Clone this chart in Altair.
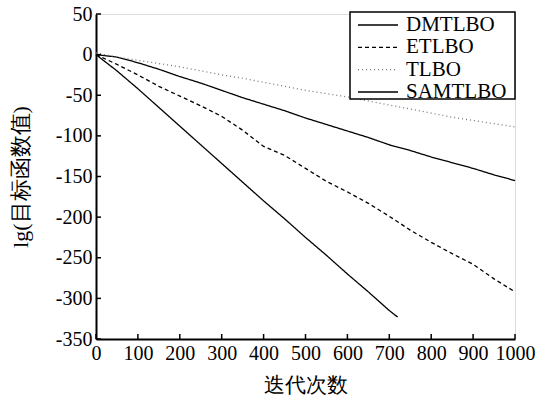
import altair as alt
import pandas as pd

iters = [0, 50, 100, 150, 200, 250, 300, 350, 400, 450, 500,
         550, 600, 650, 700, 750, 800, 850, 900, 950, 1000]
dmtlbo = [0, -3, -10, -18, -27, -35, -44, -53, -61, -69, -78,
          -86, -94, -102, -111, -118, -126, -133, -140, -148, -155]
etlbo = [0, -12, -25, -39, -51, -63, -76, -93, -113, -124, -140,
         -156, -169, -183, -199, -216, -231, -245, -258, -276, -292]
tlbo = [2, -3, -7, -11, -15, -20, -25, -29, -34, -39, -44,
        -48, -52, -57, -62, -67, -72, -77, -81, -85, -89]
sam_iters = [0, 50, 100, 150, 200, 250, 300, 350, 400, 450, 500,
             550, 600, 650, 700, 720]
samtlbo = [0, -20, -42, -65, -88, -111, -134, -157, -180, -202, -225,
           -247, -270, -292, -315, -323]

series_names = ["DMTLBO", "ETLBO", "TLBO", "SAMTLBO"]
x_ticks = [0, 100, 200, 300, 400, 500, 600, 700, 800, 900, 1000]
y_ticks = [50, 0, -50, -100, -150, -200, -250, -300, -350]

rows = []
for name, xs, ys in [("DMTLBO", iters, dmtlbo), ("ETLBO", iters, etlbo),
                     ("TLBO", iters, tlbo), ("SAMTLBO", sam_iters, samtlbo)]:
    for i, (a, b) in enumerate(zip(xs, ys)):
        rows.append({"iter": a, "val": b, "alg": name, "order": i})
df = pd.DataFrame(rows)

FONT = "Liberation Serif"
W, H = 419, 325

xscale = alt.Scale(domain=[0, 1000], nice=False, zero=False)
yscale = alt.Scale(domain=[-350, 50], nice=False, zero=False)
color_scale = alt.Scale(domain=series_names,
                        range=["black", "black", "#777777", "black"])
dash_scale = alt.Scale(domain=series_names,
                       range=[[1, 0], [4, 3], [1, 3], [1, 0]])

axis_common = dict(grid=False, tickSize=0, labelPadding=4,
                   labelFontSize=20,
                   labelFont=FONT, titleFont=FONT,
                   labelColor="black", titleColor="black",
                   domainColor="black", domainWidth=2,
                   labelExpr="datum.value + ''",
                   labelFlush=False, titleFontWeight="normal")

x_axis = alt.Axis(values=x_ticks, title="迭代次数", titlePadding=11,
                  titleFontSize=21, **axis_common)
y_axis = alt.Axis(values=y_ticks, title="lg(目标函数值)", titlePadding=23,
                  titleFontSize=22, **axis_common)

lines = alt.Chart(df).mark_line(strokeWidth=1.3).encode(
    x=alt.X("iter:Q", scale=xscale, axis=x_axis),
    y=alt.Y("val:Q", scale=yscale, axis=y_axis),
    color=alt.Color("alg:N", scale=color_scale, legend=None),
    strokeDash=alt.StrokeDash("alg:N", scale=dash_scale, legend=None),
    order="order:Q",
    detail="alg:N",
)

xt = pd.DataFrame({"t": x_ticks})
yt = pd.DataFrame({"t": y_ticks})
xticks = alt.Chart(xt).mark_rule(color="black", strokeWidth=1.5).encode(
    x=alt.X("t:Q", scale=xscale, axis=x_axis),
    y=alt.value(H), y2=alt.value(H - 5))
yticks = alt.Chart(yt).mark_rule(color="black", strokeWidth=1.5).encode(
    y=alt.Y("t:Q", scale=yscale, axis=None),
    x=alt.value(0), x2=alt.value(5))

# legend (decoration) built from the series names
leg_df = pd.DataFrame({"alg": series_names, "row": list(range(len(series_names)))})
row_scale = alt.Scale(domain=[0, 3], range=[11, 78])
leg_box = alt.Chart(pd.DataFrame({"k": [0]})).mark_rect(
    fill="white", stroke="black", strokeWidth=1.5).encode(
    x=alt.value(254), x2=alt.value(419), y=alt.value(-2), y2=alt.value(85))
leg_lines = alt.Chart(leg_df).mark_rule(strokeWidth=1.3).encode(
    x=alt.value(262), x2=alt.value(302),
    y=alt.Y("row:Q", scale=row_scale, axis=None),
    color=alt.Color("alg:N", scale=color_scale, legend=None),
    strokeDash=alt.StrokeDash("alg:N", scale=dash_scale, legend=None),
)
leg_text = alt.Chart(leg_df).mark_text(
    align="left", baseline="middle", font=FONT, fontSize=21, color="black").encode(
    x=alt.value(310),
    y=alt.Y("row:Q", scale=row_scale, axis=None),
    text="alg:N",
)

chart = alt.layer(lines, xticks, yticks, leg_box, leg_lines, leg_text).resolve_scale(
    y="independent"
).properties(
    width=W, height=H,
    autosize=alt.AutoSizeParams(type="none"),
    padding={"left": 96, "top": 14, "right": 31, "bottom": 59},
).configure_view(stroke="black", strokeWidth=2).configure(background="white")

chart.save("out.html", embed_options={"renderer": "svg", "actions": False})
